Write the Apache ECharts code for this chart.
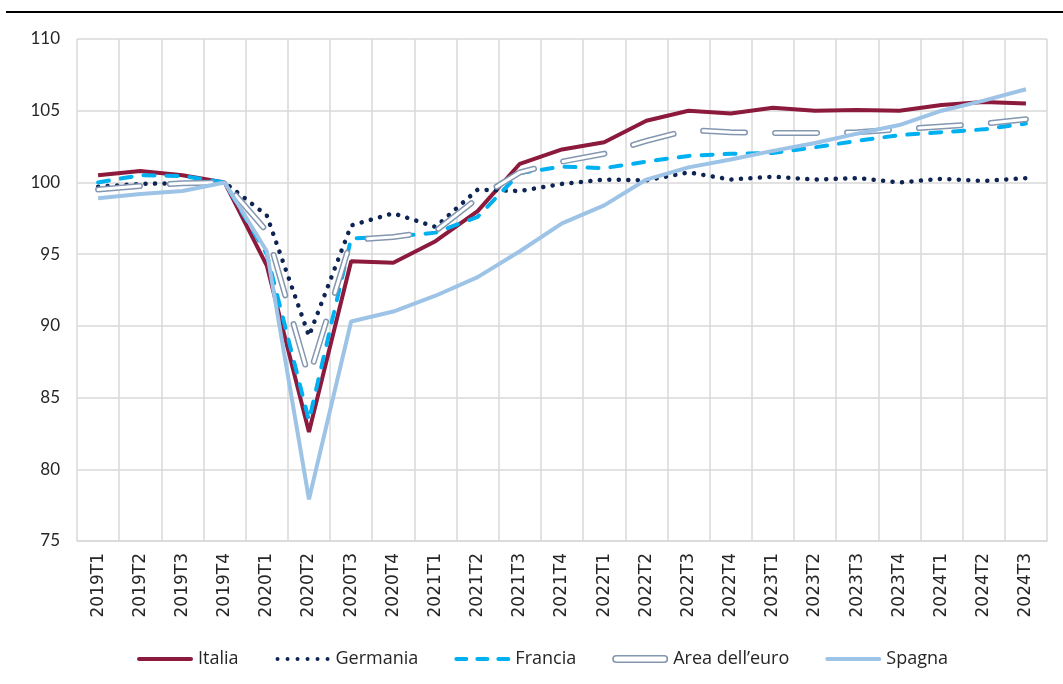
<!DOCTYPE html>
<html>
<head>
<meta charset="utf-8">
<script src="https://cdn.jsdelivr.net/npm/echarts@6/dist/echarts.min.js"></script>
<style>html,body{margin:0;padding:0;background:#fff;}#c{width:1063px;height:684px;}</style>
</head>
<body>
<div id="c"></div>
<script>
const categories = ['2019T1','2019T2','2019T3','2019T4','2020T1','2020T2','2020T3','2020T4','2021T1','2021T2','2021T3','2021T4','2022T1','2022T2','2022T3','2022T4','2023T1','2023T2','2023T3','2023T4','2024T1','2024T2','2024T3'];
const italia   = [100.5,100.8,100.5,100.0,94.2,82.6,94.5,94.4,95.9,98.0,101.3,102.3,102.8,104.3,105.0,104.8,105.2,105.0,105.05,105.0,105.4,105.6,105.5];
const germania = [99.7,99.9,99.95,100.0,97.7,89.3,97.0,97.85,96.9,99.5,99.4,99.9,100.2,100.15,100.7,100.2,100.4,100.2,100.3,100.0,100.25,100.1,100.3];
const francia  = [100.0,100.5,100.45,100.0,95.0,83.4,96.1,96.2,96.5,97.6,100.65,101.1,101.0,101.45,101.85,102.0,102.05,102.45,102.9,103.3,103.5,103.7,104.1];
const areaEuro = [99.5,99.75,99.95,100.0,96.6,86.4,96.0,96.2,96.6,98.9,100.7,101.45,102.0,102.9,103.65,103.5,103.45,103.45,103.5,103.7,103.9,104.1,104.4];
const spagna   = [98.9,99.2,99.4,100.0,95.2,77.9,90.3,91.0,92.1,93.4,95.2,97.15,98.4,100.2,101.05,101.6,102.2,102.75,103.4,104.0,105.0,105.7,106.5];
const yTicks = {min: 75, max: 110, interval: 5};

const chart = echarts.init(document.getElementById('c'));
// legend icons (56 x 8 box; "M0,0 M56,8" fixes the box)
const box = 'M0,0 M56,8 ';
const solidIcon = 'path://' + box + 'M2,2 L54,2 A2,2 0 0 1 54,6 L2,6 A2,2 0 0 1 2,2 Z';
let dots = 'path://' + box;
for (let i = 0; i < 6; i++) { const cx = 3 + i * 10; dots += 'M' + (cx - 2) + ',4 A2,2 0 1 0 ' + (cx + 2) + ',4 A2,2 0 1 0 ' + (cx - 2) + ',4 Z '; }
let dashes = 'path://' + box;
[[0, 14], [21, 35], [42, 56]].forEach(function (d) { dashes += 'M' + (d[0] + 2) + ',2 L' + (d[1] - 2) + ',2 A2,2 0 0 1 ' + (d[1] - 2) + ',6 L' + (d[0] + 2) + ',6 A2,2 0 0 1 ' + (d[0] + 2) + ',2 Z '; });
const ringPath = 'path://M4,0 L52,0 A4,4 0 0 1 52,8 L4,8 A4,4 0 0 1 4,0 Z M4,1.6 A2.4,2.4 0 0 0 4,6.4 L52,6.4 A2.4,2.4 0 0 0 52,1.6 Z';

chart.setOption({
  animation: false,
  backgroundColor: '#ffffff',
  graphic: [{
    type: 'rect', left: 6, top: 11, shape: {width: 1063, height: 2}, style: {fill: '#000'}
  }],
  grid: {left: 77, right: 16, top: 39, bottom: 143},
  legend: {
    left: 132, top: 645, itemGap: 36, itemWidth: 56, itemHeight: 8,
    textStyle: {fontFamily: 'Open Sans', fontSize: 18, color: '#262626'},
    data: [
      {name: 'Italia', icon: solidIcon},
      {name: 'Germania', icon: dots},
      {name: 'Francia', icon: dashes},
      {name: 'Area dell\u2019euro', icon: ringPath, itemStyle: {color: '#8497B0'}},
      {name: 'Spagna', icon: solidIcon}
    ]
  },
  xAxis: {
    type: 'category', data: categories, boundaryGap: true,
    axisLine: {show: true, lineStyle: {color: '#D9D9D9', width: 1.5}},
    axisTick: {show: false},
    splitLine: {show: true, lineStyle: {color: '#D9D9D9', width: 1.5}},
    axisLabel: {rotate: 90, fontFamily: 'DejaVu Sans', fontSize: 17, color: '#262626', margin: 12, interval: 0}
  },
  yAxis: {
    type: 'value', min: yTicks.min, max: yTicks.max, interval: yTicks.interval,
    axisLine: {show: false}, axisTick: {show: false},
    splitLine: {lineStyle: {color: '#D9D9D9', width: 1.5}},
    axisLabel: {fontFamily: 'Lato', fontSize: 17, color: '#262626', margin: 17}
  },
  series: [
    {name: 'Italia', type: 'line', data: italia, symbol: 'none', z: 2,
     itemStyle: {color: '#8B1A3D'}, lineStyle: {color: '#8B1A3D', width: 4}},
    {name: 'Germania', type: 'line', data: germania, symbol: 'none', z: 3,
     itemStyle: {color: '#0E2453'}, lineStyle: {color: '#0E2453', width: 4.5, type: [0.1, 9.4], cap: 'round'}},
    {name: 'Francia', type: 'line', data: francia, symbol: 'none', z: 4,
     itemStyle: {color: '#00B0F0'}, lineStyle: {color: '#00B0F0', width: 4, type: [11, 12], cap: 'round'}},
    {name: 'Area dell\u2019euro', type: 'line', data: areaEuro, symbol: 'none', z: 5,
     itemStyle: {color: '#8497B0'}, lineStyle: {color: '#8497B0', width: 6, type: [42, 30], cap: 'round'}},
    {name: 'Area dell\u2019euro inner', type: 'line', data: areaEuro, symbol: 'none', z: 6,
     legendHoverLink: false, silent: true,
     itemStyle: {color: '#ffffff'}, lineStyle: {color: '#ffffff', width: 3, type: [42, 30], cap: 'round'}},
    {name: 'Spagna', type: 'line', data: spagna, symbol: 'none', z: 7,
     itemStyle: {color: '#9DC3E6'}, lineStyle: {color: '#9DC3E6', width: 4}}
  ]
});
</script>
</body>
</html>
